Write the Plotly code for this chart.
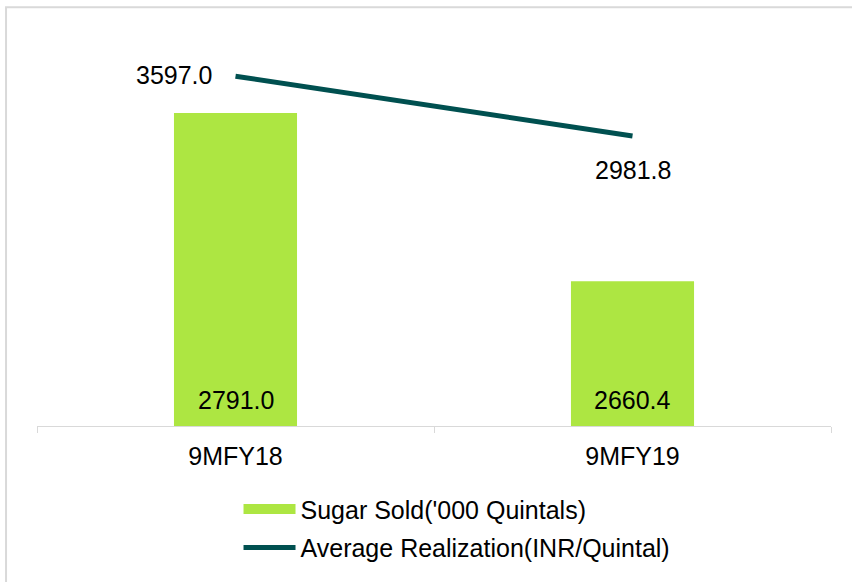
import plotly.graph_objects as go

categories = ["9MFY18", "9MFY19"]
sugar_sold = [2791.0, 2660.4]
avg_realization = [3597.0, 2981.8]
bar_name = "Sugar Sold('000 Quintals)"
line_name = "Average Realization(INR/Quintal)"

BAR_COLOR = "#ADE642"
LINE_COLOR = "#005050"
FONT = "Liberation Sans, Arial, sans-serif"
FS = 25

fig = go.Figure()
fig.add_trace(go.Bar(
    x=categories, y=sugar_sold, name=bar_name,
    marker=dict(color=BAR_COLOR, line=dict(width=0)),
    width=0.31, showlegend=False,
    yaxis="y",
))
# legend entry for the bars (wide rectangle like the reference)
fig.add_trace(go.Scatter(
    x=[None], y=[None], name=bar_name, mode="lines",
    line=dict(color=BAR_COLOR, width=13), legendgroup="a",
    yaxis="y",
))
fig.add_trace(go.Scatter(
    x=categories, y=avg_realization, name=line_name,
    mode="lines", line=dict(color=LINE_COLOR, width=5),
    legendgroup="b", yaxis="y2",
))

# bar value labels, at the base of each bar
for c, v in zip(categories, sugar_sold):
    fig.add_annotation(x=c, y=0, xref="x", yref="paper", text=f"{v:.1f}",
                       showarrow=False, yanchor="middle", yshift=26,
                       font=dict(size=FS, family=FONT, color="black"))

# line value labels
fig.add_annotation(x=categories[0], y=avg_realization[0], xref="x", yref="y2",
                   text=f"{avg_realization[0]:.1f}", showarrow=False,
                   xanchor="right", xshift=-22, yshift=1,
                   font=dict(size=FS, family=FONT, color="black"))
fig.add_annotation(x=categories[1], y=avg_realization[1], xref="x", yref="y2",
                   text=f"{avg_realization[1]:.1f}", showarrow=False,
                   yanchor="middle", yshift=-34,
                   font=dict(size=FS, family=FONT, color="black"))

fig.update_layout(
    width=852, height=582,
    margin=dict(l=37, r=21, t=37, b=154),
    paper_bgcolor="white", plot_bgcolor="white",
    font=dict(family=FONT, size=FS, color="black"),
    showlegend=True,
    legend=dict(x=0.2538, xanchor="left", y=-0.155, yanchor="top",
                orientation="v", font=dict(size=FS, family=FONT),
                itemwidth=52, tracegroupgap=3, bgcolor="rgba(0,0,0,0)"),
    xaxis=dict(type="category", showline=True, linecolor="#D9D9D9", linewidth=1,
               ticks="outside", tickson="boundaries", ticklen=6, tickcolor="#D9D9D9",
               showgrid=False, tickfont=dict(size=FS, family=FONT),
               ticklabelstandoff=8),
    yaxis=dict(range=[2548, 2850], visible=False, showgrid=False),
    yaxis2=dict(range=[0, 4000], overlaying="y", visible=False, showgrid=False),
    shapes=[dict(type="rect", xref="paper", yref="paper",
                 x0=-0.039, x1=1.2, y0=-0.6, y1=1.0767,
                 line=dict(color="#D9D9D9", width=2), fillcolor="rgba(0,0,0,0)",
                 layer="below")],
)

fig.write_html("out.html", config={"displayModeBar": False},
               post_script="document.body.style.margin='0';document.body.style.overflow='hidden';")
